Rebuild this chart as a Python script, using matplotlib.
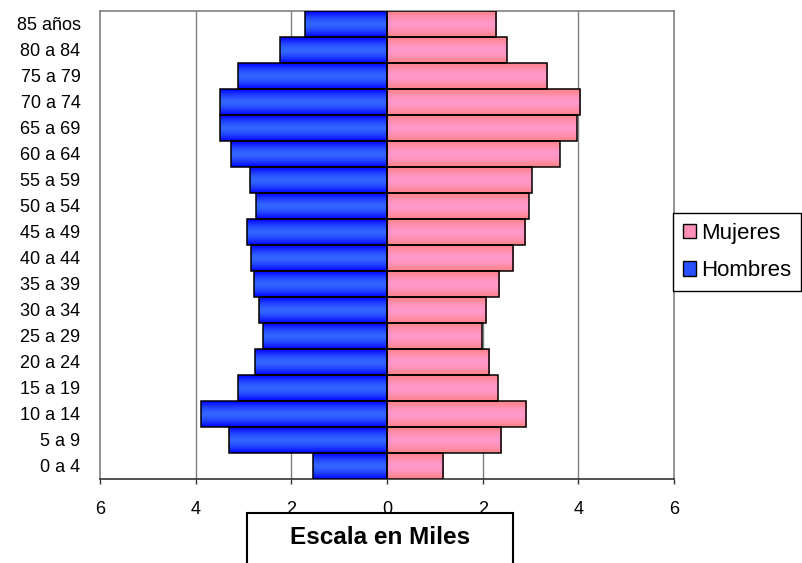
import numpy as np
import matplotlib
matplotlib.use("Agg")
import matplotlib.pyplot as plt
from matplotlib.patches import Patch, Rectangle

plt.rcParams['font.family'] = ['Liberation Sans', 'DejaVu Sans']

# age groups, bottom to top
grupos = ["0 a 4", "5 a 9", "10 a 14", "15 a 19", "20 a 24", "25 a 29",
          "30 a 34", "35 a 39", "40 a 44", "45 a 49", "50 a 54", "55 a 59",
          "60 a 64", "65 a 69", "70 a 74", "75 a 79", "80 a 84", "85 años"]

# thousands
hombres = [1.54, 3.30, 3.88, 3.11, 2.75, 2.60, 2.67, 2.78, 2.85, 2.93,
           2.73, 2.86, 3.26, 3.49, 3.49, 3.11, 2.23, 1.72]
mujeres = [1.18, 2.39, 2.91, 2.32, 2.14, 1.98, 2.08, 2.35, 2.64, 2.89,
           2.96, 3.03, 3.61, 3.97, 4.04, 3.35, 2.50, 2.28]

ticks = [-6, -4, -2, 0, 2, 4, 6]

fig = plt.figure(figsize=(8.03, 5.63), dpi=100)
ax = fig.add_axes([100 / 803, 1 - 479 / 563, 574 / 803, 468 / 563])

y = np.arange(len(grupos))
bh = ax.barh(y, -np.array(hombres), height=1.0, color='#3366ff',
             edgecolor='black', linewidth=1.1, zorder=3)
bm = ax.barh(y, mujeres, height=1.0, color='#ff99cc',
             edgecolor='black', linewidth=1.1, zorder=3)

# gradient fill like the old spreadsheet bars
t = np.linspace(0, 1, 64)
prof = np.abs(t - 0.5) * 2
def grad(c_mid, c_edge):
    c_mid = np.array(matplotlib.colors.to_rgb(c_mid))
    c_edge = np.array(matplotlib.colors.to_rgb(c_edge))
    w = np.clip(prof ** 1.6, 0, 1)[:, None]
    return (c_mid * (1 - w) + c_edge * w)[:, None, :]

g_azul = grad('#3366ff', '#0000ff')
g_rosa = grad('#ff99cc', '#ff8080')
for bars, g in ((bh, g_azul), (bm, g_rosa)):
    for p in bars:
        x0, y0 = p.get_x(), p.get_y()
        x1, y1 = x0 + p.get_width(), y0 + p.get_height()
        im = ax.imshow(g, extent=[min(x0, x1), max(x0, x1), y0, y1],
                       aspect='auto', interpolation='bilinear', zorder=3.5)
        im.set_clip_path(p)
        p.set_facecolor('none')
        p.set_zorder(4)

ax.set_xlim(-6, 6)
ax.set_ylim(-0.5, len(grupos) - 0.5)
ax.set_xticks(ticks)
ax.set_xticklabels([str(abs(v)) for v in ticks], fontsize=13)
ax.set_yticks(y)
ax.set_yticklabels(grupos, fontsize=13)
ax.tick_params(axis='y', length=0, pad=14)
ax.tick_params(axis='x', length=3.5, width=1, color='#333333', pad=12, direction='out')
for v in ticks[1:-1]:
    ax.axvline(v, color='#808080', linewidth=1, zorder=1)
for s in ('top', 'left', 'right'):
    ax.spines[s].set_color('#808080')
    ax.spines[s].set_linewidth(1.2)
ax.spines['bottom'].set_color('#333333')
ax.spines['bottom'].set_linewidth(1.2)

fig.legend(handles=[Patch(facecolor='#ff8fb8', edgecolor='black', label='Mujeres'),
                    Patch(facecolor='#2850ff', edgecolor='black', label='Hombres')],
           loc='center left', bbox_to_anchor=(673 / 803, 1 - 252 / 563),
           fontsize=16, frameon=True, fancybox=False, edgecolor='black',
           framealpha=1, borderaxespad=0, handlelength=0.6, handleheight=0.6,
           handletextpad=0.2, borderpad=0.45, labelspacing=0.75)

fig.patches.append(Rectangle((247 / 803, -0.05), 266 / 803, 0.05 + 1 - 513 / 563,
                             transform=fig.transFigure, facecolor='white',
                             edgecolor='black', linewidth=1.5))
fig.text(380 / 803, 1 - 538 / 563, "Escala en Miles", ha='center', va='center',
         fontsize=17.5, fontweight='bold')

fig.savefig("out.png", dpi=100)
